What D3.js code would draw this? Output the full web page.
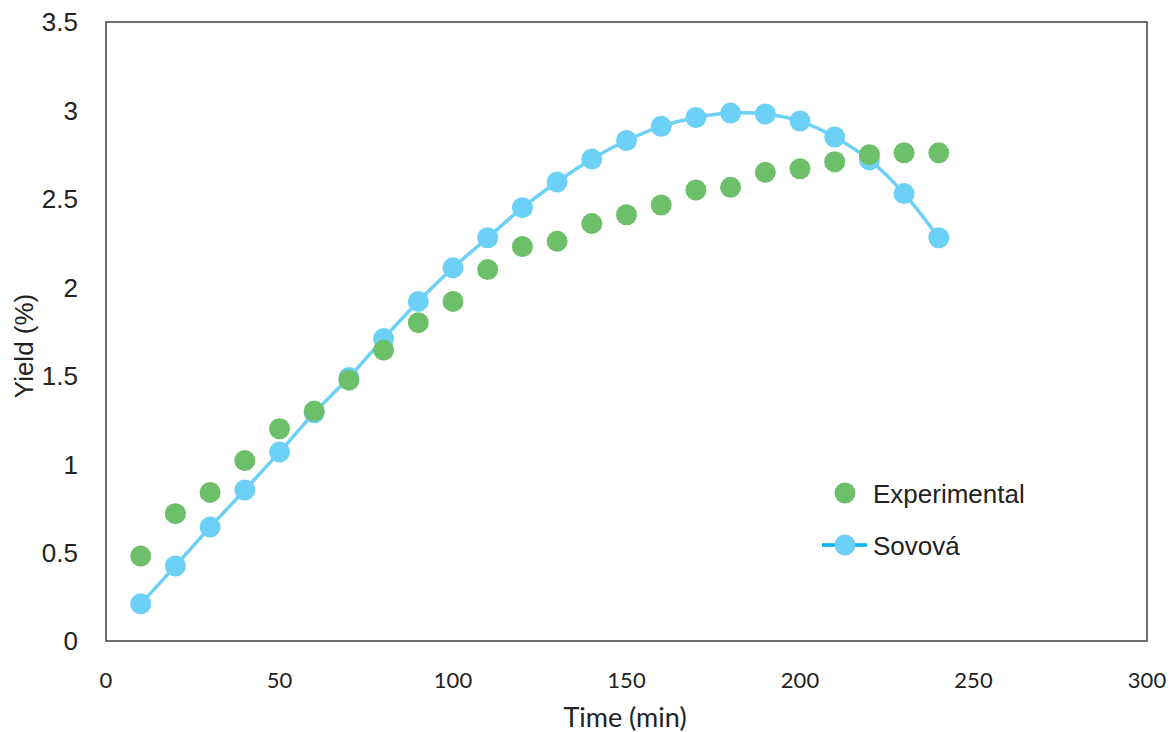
<!DOCTYPE html>
<html>
<head>
<meta charset="utf-8">
<script src="https://cdn.jsdelivr.net/npm/d3@7"></script>
<style>
  body { margin: 0; background: #fff; }
</style>
</head>
<body>
<script>
// time points (min)
var times = [10, 20, 30, 40, 50, 60, 70, 80, 90, 100, 110, 120,
             130, 140, 150, 160, 170, 180, 190, 200, 210, 220, 230, 240];
var experimental = [0.48, 0.72, 0.84, 1.02, 1.20, 1.30, 1.475, 1.645, 1.80, 1.92, 2.10, 2.23,
                    2.26, 2.36, 2.41, 2.465, 2.55, 2.565, 2.65, 2.67, 2.71, 2.75, 2.76, 2.76];
var sovova = [0.21, 0.424, 0.644, 0.854, 1.068, 1.29, 1.49, 1.71, 1.92, 2.11, 2.28, 2.45,
              2.595, 2.725, 2.83, 2.91, 2.96, 2.985, 2.98, 2.94, 2.85, 2.72, 2.53, 2.28];
var xTicks = [0, 50, 100, 150, 200, 250, 300];
var yTicks = [0, 0.5, 1, 1.5, 2, 2.5, 3, 3.5];
var seriesNames = ["Experimental", "Sovová"];

var width = 1171, height = 732;
var svg = d3.select("body").append("svg")
    .attr("width", width)
    .attr("height", height);

var x = d3.scaleLinear().domain([0, 300]).range([106, 1147]);
var y = d3.scaleLinear().domain([0, 3.5]).range([641, 22]);

var green = "#6dbf6a", blue = "#6dd0f6";
var arial = "Liberation Sans, Arial, sans-serif",
    calibri = "Lato, Open Sans, sans-serif";

// plot border
svg.append("rect")
    .attr("x", x(0)).attr("y", y(3.5))
    .attr("width", x(300) - x(0)).attr("height", y(0) - y(3.5))
    .attr("fill", "none").attr("stroke", "#404040").attr("stroke-width", 1.5);

// y tick labels
svg.selectAll("text.ytick").data(yTicks).enter().append("text")
    .attr("class", "ytick")
    .attr("x", 78).attr("y", function(d) { return y(d); })
    .attr("dy", "0.36em")
    .attr("text-anchor", "end")
    .style("font-family", arial)
    .style("font-size", "26px").style("fill", "#222")
    .text(function(d) { return d; });

// x tick labels
svg.selectAll("text.xtick").data(xTicks).enter().append("text")
    .attr("class", "xtick")
    .attr("x", function(d) { return x(d); }).attr("y", 688)
    .attr("text-anchor", "middle")
    .style("font-family", calibri)
    .style("font-size", "22px").style("fill", "#222")
    .text(function(d) { return d; });

// axis titles
svg.append("text")
    .attr("x", 625).attr("y", 727)
    .attr("text-anchor", "middle")
    .style("font-family", calibri)
    .style("font-size", "27px").style("fill", "#222")
    .text("Time (min)");

svg.append("text")
    .attr("transform", "translate(33,346) rotate(-90)")
    .attr("text-anchor", "middle")
    .style("font-family", arial)
    .style("font-size", "26px").style("fill", "#222")
    .text("Yield (%)");

// Sovová model line (smoothed)
var line = d3.line()
    .x(function(d, i) { return x(times[i]); })
    .y(function(d) { return y(d); })
    .curve(d3.curveCatmullRom.alpha(0.5));

svg.append("path")
    .datum(sovova)
    .attr("d", line)
    .attr("fill", "none").attr("stroke", blue).attr("stroke-width", 3.5);

svg.selectAll("circle.sov").data(sovova).enter().append("circle")
    .attr("class", "sov")
    .attr("cx", function(d, i) { return x(times[i]); })
    .attr("cy", function(d) { return y(d); })
    .attr("r", 10.5).attr("fill", blue);

svg.selectAll("circle.exp").data(experimental).enter().append("circle")
    .attr("class", "exp")
    .attr("cx", function(d, i) { return x(times[i]); })
    .attr("cy", function(d) { return y(d); })
    .attr("r", 10.5).attr("fill", green);

// legend
var legend = svg.append("g");
legend.append("circle").attr("cx", 845).attr("cy", 493).attr("r", 10.5).attr("fill", green);
legend.append("line").attr("x1", 822).attr("x2", 867).attr("y1", 545).attr("y2", 545)
    .attr("stroke", "#00b0f0").attr("stroke-width", 3.5);
legend.append("circle").attr("cx", 845).attr("cy", 545).attr("r", 10.5).attr("fill", blue);
legend.selectAll("text").data(seriesNames).enter().append("text")
    .attr("x", 873).attr("y", function(d, i) { return 494 + i * 52; })
    .attr("dy", "0.36em")
    .style("font-family", arial)
    .style("font-size", "26px").style("fill", "#222")
    .text(function(d) { return d; });
</script>
</body>
</html>
